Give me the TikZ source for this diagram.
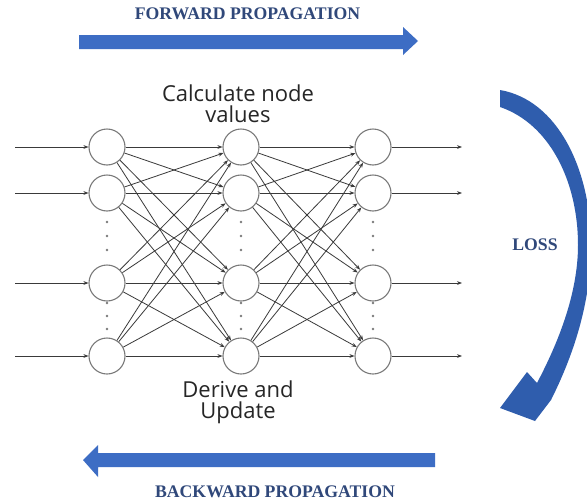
\documentclass[tikz,border=0pt]{standalone}
\usepackage{fontspec}
\setmainfont{Liberation Serif}
\newfontfamily\labelfont{Open Sans}
\usetikzlibrary{arrows.meta}
\definecolor{arrowblue}{HTML}{3D6DC4}
\definecolor{curveblue}{HTML}{2F5DAD}
\definecolor{titleblue}{HTML}{30487A}
\definecolor{neurongray}{HTML}{7A7A7A}
\definecolor{linkgray}{HTML}{3A3A3A}
\begin{document}
\begin{tikzpicture}[x=1pt,y=-1pt,
  neuron/.style={circle, draw=neurongray, line width=1.1pt, minimum size=36pt, inner sep=0pt, fill=white},
  link/.style={draw=linkgray, line width=0.8pt, -{Stealth[length=5pt,width=3.8pt]}},
  dotmark/.style={fill=neurongray, draw=none},
  title/.style={font=\fontsize{17.7}{20}\selectfont\bfseries, text=titleblue, inner sep=0pt},
  caption/.style={font=\labelfont\fontsize{22}{20.5}\selectfont, text=black!85, align=center, inner sep=0pt}]

\useasboundingbox (0,0) rectangle (587,501);
\fill[white] (0,0) rectangle (587,501);

% straight propagation arrows
\fill[arrowblue] (79,35) -- (403,35) -- (403,27) -- (418,41) -- (403,55) -- (403,49) -- (79,49) -- cycle;
\fill[arrowblue] (435,453) -- (98,453) -- (98,445) -- (83,460) -- (98,477) -- (98,467) -- (435,467) -- cycle;

% curved loss arrow
\begin{scope}
  \clip (0,0) rectangle (587,501);
  \fill[curveblue] (500,90) .. controls (558,100) and (591,170) .. (591,245)
    .. controls (591,305) and (572,358) .. (551,400)
    -- (535,421) -- (500,408) -- (527,372) -- (537,383)
    .. controls (557,345) and (578,295) .. (578,245)
    .. controls (578,182) and (550,124) .. (500,107) -- cycle;
\end{scope}

% labels
\node[title] (fwd) at (247.5,14) {FORWARD PROPAGATION};
\node[title] (bwd) at (275,492) {BACKWARD PROPAGATION};
\node[title] (loss) at (535,245) {LOSS};
\node[caption, anchor=base] (calc) at (238,122) {Calculate node\\values};
\node[caption, anchor=base] (derive) at (238,418) {Derive and\\Update};

% neurons
\foreach \l/\x in {1/107,2/241,3/373}{
  \foreach \r/\y in {1/147,2/193,3/283,4/356}{
    \node[neuron] (n\l\r) at (\x,\y) {};
  }
  \foreach \y in {222,236,250,303,316,329}{
    \fill[dotmark] (\x,\y) circle (1.3);
  }
}

% inputs and outputs
\foreach \r/\y in {1/147,2/193,3/283,4/356}{
  \coordinate (in\r) at (15,\y);
  \coordinate (out\r) at (462,\y);
  \draw[link] (in\r) -- (n1\r);
  \draw[link] (n3\r) -- (out\r);
}

% full connections between layers
\foreach \a/\b in {1/2,2/3}{
  \foreach \i in {1,...,4}{
    \foreach \j in {1,...,4}{
      \draw[link] (n\a\i) -- (n\b\j);
    }
  }
}
\end{tikzpicture}
\end{document}
